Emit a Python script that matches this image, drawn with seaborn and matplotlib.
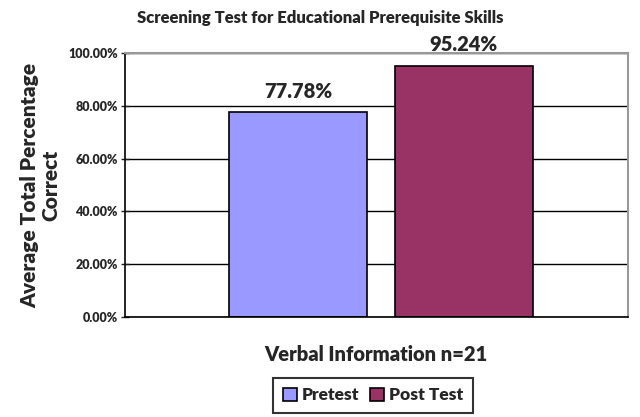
import seaborn as sns
import pandas as pd
import matplotlib.pyplot as plt
from matplotlib.ticker import PercentFormatter

# data
category = ['Verbal Information n=21']
tests = ['Pretest', 'Post Test']
scores = [77.78, 95.24]
bar_colors = ['#9999FF', '#993366']

df = pd.DataFrame({'group': category * len(tests), 'test': tests, 'score': scores})

sns.set_style('white')
plt.rcParams['font.family'] = ['Lato', 'DejaVu Sans']
plt.rcParams['font.weight'] = 'bold'

fig = plt.figure(figsize=(6.4, 4.17), dpi=100)
ax = fig.add_axes([0.195, 0.24, 0.786, 0.633])

sns.barplot(data=df, x='group', y='score', hue='test', palette=bar_colors,
            saturation=1, width=0.66, gap=0.17, edgecolor='black', linewidth=1.2,
            legend=True, ax=ax)

ax.set_xlim(-0.509, 0.491)
ax.set_ylim(0, 100)
ax.set_yticks(range(0, 101, 20))
ax.yaxis.set_major_formatter(PercentFormatter(decimals=2))
ax.tick_params(axis='y', labelsize=9, length=6, direction='inout', left=True, width=1, pad=2)
for lbl in ax.get_yticklabels():
    lbl.set_fontweight('heavy')
ax.set_xticks([])
ax.grid(axis='y', color='black', linewidth=1)
ax.set_axisbelow(True)
for side in ['left', 'bottom']:
    ax.spines[side].set_color('black')
    ax.spines[side].set_linewidth(1.2)
for side in ['top', 'right']:
    ax.spines[side].set_color('#999999')
    ax.spines[side].set_linewidth(1.5)

# value labels above the bars
for cont in ax.containers:
    ax.bar_label(cont, fmt='%.2f%%', fontsize=14.5, fontweight='heavy', padding=8,
                 clip_on=False)

ax.set_xlabel('Verbal Information n=21', fontsize=14.5, fontweight='heavy', labelpad=20)
ax.set_ylabel('Average Total Percentage\nCorrect', fontsize=15, fontweight='heavy',
              labelpad=6, linespacing=1.1)
fig.suptitle('Screening Test for Educational Prerequisite Skills', fontsize=12,
             fontweight='heavy', y=0.975)

leg = ax.legend(loc='center', bbox_to_anchor=(0.583, 0.052), bbox_transform=fig.transFigure,
                ncol=2, frameon=True, fancybox=False, edgecolor='black',
                prop={'size': 12.5, 'weight': 'heavy'},
                handlelength=0.8, handleheight=0.8, handletextpad=0.3, columnspacing=0.6,
                borderpad=0.55)
leg.get_frame().set_linewidth(1.5)

fig.savefig('out.png', dpi=100)
